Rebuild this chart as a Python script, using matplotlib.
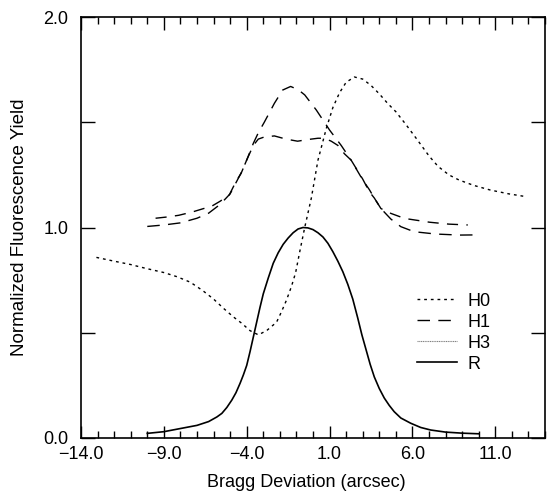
import matplotlib
matplotlib.use("Agg")
import matplotlib.pyplot as plt
from matplotlib.lines import Line2D

plt.rcParams['font.family'] = ['Liberation Sans', 'DejaVu Sans']

# R (reflectivity)
r_x = [-10.0, -9.0, -8.0, -7.0, -6.3, -5.8, -5.5, -5.2, -4.9, -4.65, -4.4, -4.2, -4.0, -3.8, -3.6,
       -3.4, -3.2, -3.0, -2.7, -2.4, -2.1, -1.8, -1.5, -1.2, -0.9, -0.6, -0.3, 0.0, 0.3, 0.6, 0.9,
       1.2, 1.5, 1.8, 2.1, 2.4, 2.7, 2.95, 3.2, 3.45, 3.7, 4.0, 4.3, 4.6, 4.9, 5.3, 5.9, 6.5, 7.1,
       8.0, 9.0, 10.0]
r_y = [0.022, 0.03, 0.045, 0.06, 0.078, 0.10, 0.117, 0.145, 0.18, 0.215, 0.26, 0.30, 0.345, 0.41,
       0.48, 0.55, 0.62, 0.685, 0.76, 0.83, 0.88, 0.92, 0.95, 0.975, 0.993, 1.0, 0.998, 0.99, 0.975,
       0.955, 0.925, 0.885, 0.84, 0.79, 0.73, 0.66, 0.57, 0.49, 0.42, 0.35, 0.29, 0.235, 0.19, 0.155,
       0.125, 0.095, 0.07, 0.05, 0.038, 0.028, 0.023, 0.02]

# H0
h0_x = [-13.07, -12.0, -11.0, -10.1, -9.0, -8.2, -7.4, -6.65, -6.0, -5.4, -4.8, -4.3, -3.8, -3.3,
        -2.8, -2.2, -1.9, -1.6, -1.3, -1.05, -0.8, -0.5, -0.1, 0.3, 0.8, 1.2, 1.6, 2.0, 2.5, 3.0,
        3.5, 4.0, 4.5, 5.0, 5.6, 6.3, 7.0, 7.55, 8.2, 8.8, 9.7, 10.7, 11.8, 12.9]
h0_y = [0.858, 0.84, 0.824, 0.806, 0.786, 0.766, 0.74, 0.70, 0.66, 0.616, 0.575, 0.545, 0.51, 0.49,
        0.51, 0.55, 0.60, 0.655, 0.72, 0.785, 0.885, 1.0, 1.14, 1.32, 1.47, 1.57, 1.64, 1.69, 1.715,
        1.705, 1.675, 1.635, 1.59, 1.55, 1.49, 1.416, 1.34, 1.29, 1.25, 1.226, 1.20, 1.178, 1.16, 1.146]

# H1 (peaked)
h1_x = [-10.0, -9.0, -8.0, -7.0, -6.3, -5.6, -5.0, -4.6, -4.3, -3.95, -3.6, -3.3, -2.94, -2.6, -2.33,
        -1.83, -1.35, -0.9, -0.5, 0.2, 1.0, 1.7, 2.3, 3.0, 3.4, 3.7, 4.1, 4.7, 5.3, 6.1, 7.4, 8.85, 10.0]
h1_y = [1.005, 1.012, 1.022, 1.044, 1.068, 1.11, 1.16, 1.22, 1.265, 1.33, 1.40, 1.45, 1.50, 1.55, 1.59,
        1.653, 1.67, 1.655, 1.63, 1.558, 1.463, 1.39, 1.32, 1.23, 1.17, 1.14, 1.09, 1.04, 1.004, 0.98,
        0.969, 0.964, 0.965]

# H3 (flat top)
h3_x = [-9.5, -8.8, -8.1, -7.27, -6.6, -6.16, -5.6, -5.05, -4.65, -4.34, -3.95, -3.6, -3.3, -2.94,
        -2.33, -1.63, -0.93, -0.3, 0.3, 0.69, 1.1, 1.5, 1.9, 2.3, 3.0, 3.4, 3.7, 4.1, 4.7, 5.53, 7.04,
        8.2, 9.34]
h3_y = [1.044, 1.05, 1.058, 1.074, 1.09, 1.099, 1.125, 1.155, 1.218, 1.257, 1.33, 1.39, 1.42, 1.43,
        1.435, 1.42, 1.41, 1.418, 1.424, 1.424, 1.41, 1.39, 1.35, 1.32, 1.226, 1.18, 1.14, 1.09, 1.067,
        1.043, 1.025, 1.016, 1.012]

x_major = [-14, -9, -4, 1, 6, 11]
x_major_labels = ['\u221214.0', '\u22129.0', '\u22124.0', '1.0', '6.0', '11.0']
y_major = [0.0, 0.5, 1.0, 1.5, 2.0]
y_major_labels = ['0.0', '', '1.0', '', '2.0']

fig = plt.figure(figsize=(5.48, 4.93), dpi=100)
ax = fig.add_axes([81/548, 55/493, 464/548, 421/493])

ax.plot(h0_x, h0_y, color='black', lw=1.0, dashes=(2.0, 2.8), label='H0')
ax.plot(h1_x, h1_y, color='black', lw=1.0, dashes=(9, 6), label='H1')
ax.plot(h3_x, h3_y, color='black', lw=1.0, dashes=(8, 6))
ax.plot(r_x, r_y, color='black', lw=1.2, label='R')

ax.set_xlim(-14, 14)
ax.set_ylim(0, 2.0)
ax.set_xticks(x_major)
ax.set_xticklabels(x_major_labels)
ax.set_xticks(list(range(-14, 15)), minor=True)
ax.set_yticks(y_major)
ax.set_yticklabels(y_major_labels)

ax.tick_params(axis='x', which='major', direction='in', length=9, width=1, top=True, labelsize=13, pad=6)
ax.tick_params(axis='x', which='minor', direction='in', length=5, width=1, top=True)
ax.tick_params(axis='y', which='major', direction='in', length=10, width=1, right=True, labelsize=13, pad=9)
for s in ax.spines.values():
    s.set_linewidth(1.2)

ax.set_xlabel('Bragg Deviation (arcsec)', fontsize=13, labelpad=3)
ax.xaxis.set_label_coords(0.485, -0.085)
ax.set_ylabel('Normalized Fluorescence Yield', fontsize=13.5, labelpad=11)

handles = [
    Line2D([], [], color='black', lw=1.0, dashes=(2.0, 2.8)),
    Line2D([], [], color='black', lw=1.0, dashes=(9, 6)),
    Line2D([], [], color='gray', lw=0.8, dashes=(1, 0.6)),
    Line2D([], [], color='black', lw=1.2),
]
ax.legend(handles, ['H0', 'H1', 'H3', 'R'], loc='upper left', bbox_to_anchor=(0.725, 0.345),
          frameon=False, fontsize=13, handlelength=2.2, handletextpad=0.6, labelspacing=0.22,
          borderpad=0, borderaxespad=0)

fig.savefig('out.png', dpi=100)
